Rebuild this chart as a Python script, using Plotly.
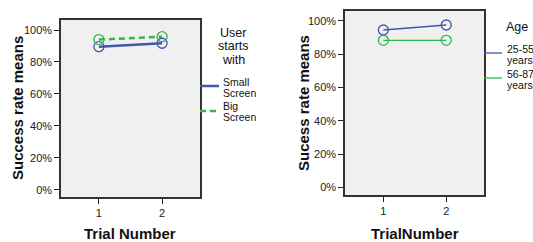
import plotly.graph_objects as go

trials = [1, 2]
tick_vals = [0, 0.2, 0.4, 0.6, 0.8, 1.0]
tick_text = ["0%", "20%", "40%", "60%", "80%", "100%"]

# Left chart: User starts with
small_screen = [0.896, 0.917]
big_screen = [0.940, 0.958]
# Right chart: Age
age_25_55 = [0.944, 0.974]
age_56_87 = [0.882, 0.882]

BLUE = "#3f58ad"
GREEN = "#2fb84a"
W, H = 533, 242

fig = go.Figure()

def add_series(y, color, dash, width, xa, ya, name):
    fig.add_trace(go.Scatter(
        x=trials, y=y, mode="lines+markers", name=name,
        line=dict(color=color, width=width, dash=dash),
        marker=dict(symbol="circle-open", size=10, color=color, line=dict(width=1.3, color=color)),
        xaxis=xa, yaxis=ya, showlegend=False, hoverinfo="skip"))

add_series(small_screen, BLUE, "solid", 2.5, "x", "y", "Small Screen")
add_series(big_screen, GREEN, "6px,4px", 2.5, "x", "y", "Big Screen")
add_series(age_25_55, BLUE, "solid", 1.3, "x2", "y2", "25-55 years")
add_series(age_56_87, GREEN, "solid", 1.3, "x2", "y2", "56-87 years")

def px_x(p):
    return p / W

def px_y(p):
    return 1 - p / H

axis_common = dict(
    showgrid=False, zeroline=False, showline=True, mirror=True,
    linecolor="#333333", linewidth=1.5, ticks="outside", ticklen=5,
    tickcolor="#222222", tickwidth=1,
    tickfont=dict(family="Liberation Sans, Arial", size=11, color="#222222"),
)

fig.update_layout(
    width=W, height=H, margin=dict(l=0, r=0, t=0, b=0),
    paper_bgcolor="white", plot_bgcolor="#f0f0f0",
    xaxis=dict(domain=[px_x(61), px_x(200)], range=[0.4, 2.6], tickvals=trials,
               anchor="y", **axis_common),
    yaxis=dict(domain=[px_y(197), px_y(20)], range=[-0.044, 1.0625],
               tickvals=tick_vals, ticktext=tick_text, anchor="x", **axis_common),
    xaxis2=dict(domain=[px_x(345), px_x(484)], range=[0.39, 2.6], tickvals=trials,
                anchor="y2", **axis_common),
    yaxis2=dict(domain=[px_y(195), px_y(11)], range=[-0.046, 1.058],
                tickvals=tick_vals, ticktext=tick_text, anchor="x2", **axis_common),
)

title_font = dict(family="Liberation Sans, Arial", size=15, color="#111111")
legend_font = dict(family="Liberation Sans, Arial", size=10.5, color="#111111")
legend_title_font = dict(family="Liberation Sans, Arial", size=12.5, color="#111111")

annotations = [
    dict(text="<b>Success rate means</b>", x=px_x(17), y=px_y(108), textangle=-90, font=title_font),
    dict(text="<b>Trial Number</b>", x=px_x(130), y=px_y(233), font=title_font),
    dict(text="<b>Sucess rate means</b>", x=px_x(303), y=px_y(103), textangle=-90, font=title_font),
    dict(text="<b>TrialNumber</b>", x=px_x(415), y=px_y(233), font=title_font),
    dict(text="User", x=px_x(233), y=px_y(33), font=legend_title_font),
    dict(text="starts", x=px_x(233), y=px_y(46.5), font=legend_title_font),
    dict(text="with", x=px_x(233), y=px_y(60), font=legend_title_font),
    dict(text="Small", x=px_x(221), y=px_y(81.5), xanchor="left", font=legend_font),
    dict(text="Screen", x=px_x(221), y=px_y(92.5), xanchor="left", font=legend_font),
    dict(text="Big", x=px_x(221), y=px_y(106), xanchor="left", font=legend_font),
    dict(text="Screen", x=px_x(221), y=px_y(117), xanchor="left", font=legend_font),
    dict(text="Age", x=px_x(504), y=px_y(27), xanchor="left", font=legend_title_font),
    dict(text="25-55", x=px_x(505), y=px_y(49), xanchor="left", font=legend_font),
    dict(text="years", x=px_x(505), y=px_y(60), xanchor="left", font=legend_font),
    dict(text="56-87", x=px_x(505), y=px_y(74), xanchor="left", font=legend_font),
    dict(text="years", x=px_x(505), y=px_y(85), xanchor="left", font=legend_font),
]
for a in annotations:
    a.update(xref="paper", yref="paper", showarrow=False)
    if "xanchor" not in a:
        a["xanchor"] = "center"
    a["yanchor"] = "middle"
    a["align"] = "left" if a["xanchor"] == "left" else "center"
fig.update_layout(annotations=annotations)

shapes = [
    dict(x0=px_x(200), x1=px_x(219), y0=px_y(86), y1=px_y(86), line=dict(color=BLUE, width=2.5)),
    dict(x0=px_x(200), x1=px_x(219), y0=px_y(111), y1=px_y(111), line=dict(color=GREEN, width=2.5, dash="6px,4px")),
    dict(x0=px_x(484), x1=px_x(502), y0=px_y(53), y1=px_y(53), line=dict(color=BLUE, width=1.3)),
    dict(x0=px_x(484), x1=px_x(502), y0=px_y(78), y1=px_y(78), line=dict(color=GREEN, width=1.3)),
]
for s in shapes:
    s.update(type="line", xref="paper", yref="paper")
fig.update_layout(shapes=shapes)

fig.write_html("out.html", config={"displayModeBar": False},
               post_script="document.body.style.margin='0';document.body.style.overflow='hidden';")
